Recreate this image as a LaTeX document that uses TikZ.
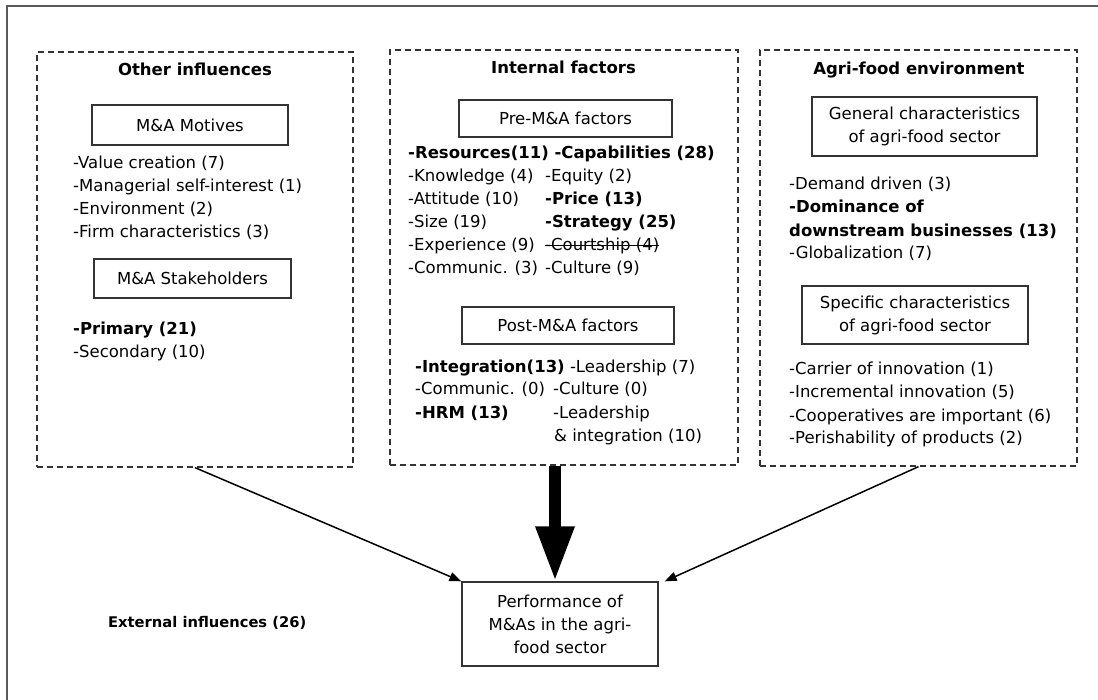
\documentclass[tikz,border=0pt]{standalone}
\usepackage{fontspec}
\setmainfont{DejaVu Sans}
\usetikzlibrary{arrows.meta}
\definecolor{framegray}{HTML}{5A5A5A}
\definecolor{linegray}{HTML}{333333}
\tikzset{
  txt/.style={inner sep=0pt, font=\fontsize{16.5}{23}\selectfont},
  item/.style={txt, anchor=base west},
  bolditem/.style={item, font=\fontsize{16.5}{23}\selectfont\bfseries},
  title/.style={txt, anchor=base, font=\fontsize{16.5}{23}\selectfont\bfseries},
  groupbox/.style={draw=linegray, line width=1.3pt, dash pattern=on 6pt off 4pt, inner sep=0pt},
  labelbox/.style={draw=linegray, line width=1.3pt, inner sep=0pt, align=center,
    font=\fontsize{16.5}{23}\selectfont},
  thinarrow/.style={line width=1.5pt, -{Triangle[length=12pt,width=9pt]}},
  thickarrow/.style={line width=12pt, -{Triangle[length=55pt,width=36pt]}}
}
\begin{document}
\begin{tikzpicture}[x=1pt,y=-1pt]
\useasboundingbox (0,0) rectangle (1098,700);
% outer frame (left and top edges)
\draw[framegray, line width=2pt] (1098,6) -- (7,6) -- (7,700);

% three groups
\node[groupbox, minimum width=316pt, minimum height=415pt] (lbox) at (195,259.5) {};
\node[groupbox, minimum width=348pt, minimum height=415pt] (mbox) at (564,257.5) {};
\node[groupbox, minimum width=317pt, minimum height=416pt] (rbox) at (918.5,258) {};

% ---- Other influences
\node[title] (t1) at (195,76) {Other influences};
\node[labelbox, minimum width=196pt, minimum height=40pt] (motives) at (190,125) {M\&A Motives};
\node[item] (m1) at (73,169) {-Value creation (7)};
\node[item] (m2) at (73,192) {-Managerial self-interest (1)};
\node[item] (m3) at (73,215) {-Environment (2)};
\node[item] (m4) at (73,238) {-Firm characteristics (3)};
\node[labelbox, minimum width=197pt, minimum height=39pt] (stake) at (192.5,278.5) {M\&A Stakeholders};
\node[bolditem] (s1) at (73,335) {-Primary (21)};
\node[item] (s2) at (73,358) {-Secondary (10)};

% ---- Internal factors
\node[title] (t2) at (563.5,74) {Internal factors};
\node[labelbox, minimum width=213pt, minimum height=37pt] (pre) at (565.5,118.5) {Pre-M\&A factors};
\node[bolditem] (p0) at (408,159) {-Resources(11) -Capabilities (28)};
\node[item] (p1a) at (408,182) {-Knowledge (4)};
\node[item] (p1b) at (545,182) {-Equity (2)};
\node[item] (p2a) at (408,205) {-Attitude (10)};
\node[bolditem] (p2b) at (545,205) {-Price (13)};
\node[item] (p3a) at (408,228) {-Size (19)};
\node[bolditem] (p3b) at (545,228) {-Strategy (25)};
\node[item] (p4a) at (408,251) {-Experience (9)};
\node[item] (court) at (545,251) {-Courtship (4)};
\draw[line width=1pt] ([yshift=5pt]court.base west) -- ([yshift=5pt]court.base east);
\node[item] (p5a) at (408,274) {-Communic. (3)};
\node[item] (p5b) at (545,274) {-Culture (9)};

\node[labelbox, minimum width=212pt, minimum height=37pt] (post) at (568,325.5) {Post-M\&A factors};
\node[item] (q1) at (415,373) {\textbf{-Integration(13)} -Leadership (7)};
\node[item] (q2a) at (415,395) {-Communic. (0)};
\node[item] (q2b) at (553,395) {-Culture (0)};
\node[bolditem] (q3a) at (415,419) {-HRM (13)};
\node[item] (q3b) at (553,419) {-Leadership};
\node[item] (q4b) at (554,442) {\& integration (10)};

% ---- Agri-food environment
\node[title] (t3) at (919,75) {Agri-food environment};
\node[labelbox, minimum width=225pt, minimum height=59pt] (general) at (924.5,126.5)
  {General characteristics\\of agri-food sector};
\node[item] (g1) at (789,190) {-Demand driven (3)};
\node[bolditem] (g2) at (789,213) {-Dominance of};
\node[bolditem] (g3) at (789,237) {downstream businesses (13)};
\node[item] (g4) at (789,259) {-Globalization (7)};
\node[labelbox, minimum width=226pt, minimum height=58pt] (specific) at (915,315)
  {Specific characteristics\\of agri-food sector};
\node[item] (c1) at (789,375) {-Carrier of innovation (1)};
\node[item] (c2) at (789,398) {-Incremental innovation (5)};
\node[item] (c3) at (789,421) {-Cooperatives are important (6)};
\node[item] (c4) at (789,444) {-Perishability of products (2)};

% ---- outcome
\node[labelbox, minimum width=196pt, minimum height=84pt] (perf) at (560,624)
  {Performance of\\M\&As in the agri-\\food sector};
\node[item, font=\fontsize{14.7}{20}\selectfont\bfseries] (ext) at (108,627) {External influences (26)};

% ---- connectors
\draw[thinarrow] (lbox.south) -- (perf.north west);
\draw[thinarrow] (rbox.south) -- ([xshift=6pt]perf.north east);
\draw[thickarrow] ([xshift=-5pt]perf.north |- mbox.south) -- ([xshift=-5pt]perf.north);
\end{tikzpicture}
\end{document}
